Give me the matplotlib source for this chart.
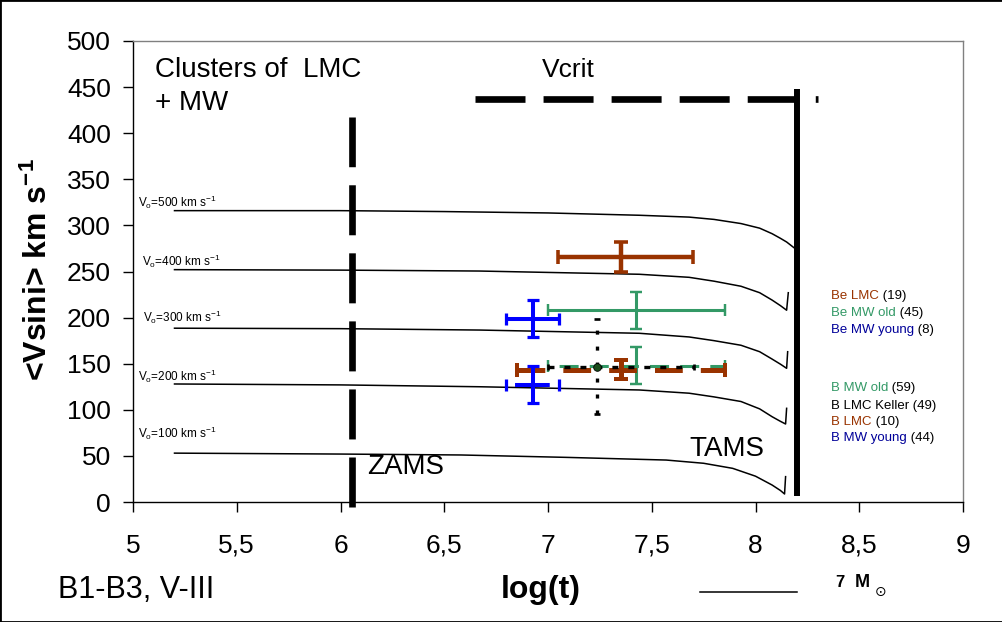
import numpy as np
import matplotlib
matplotlib.use("Agg")
import matplotlib.pyplot as plt
from matplotlib.patches import Rectangle

plt.rcParams['font.family'] = ['Liberation Sans', 'DejaVu Sans']
plt.rcParams['mathtext.fontset'] = 'custom'
plt.rcParams['mathtext.rm'] = 'Liberation Sans'
plt.rcParams['mathtext.it'] = 'Liberation Sans:italic'
plt.rcParams['mathtext.bf'] = 'Liberation Sans:bold'
plt.rcParams['lines.scale_dashes'] = False

BROWN = '#993300'
GREEN = '#339966'
BLUE = '#0000ff'
NAVY = '#000099'

# evolutionary tracks, 7 Msun (log t, <Vsini>)
track_v0 = [500, 400, 300, 200, 100]
track_logt = [
    [5.2, 6.0, 6.5, 7.0, 7.44, 7.68, 7.8, 7.93, 8.02, 8.08, 8.12, 8.15, 8.19],
    [5.2, 6.0, 6.67, 7.0, 7.44, 7.68, 7.8, 7.93, 8.02, 8.08, 8.12, 8.15, 8.158],
    [5.2, 6.0, 6.67, 7.0, 7.44, 7.68, 7.8, 7.93, 8.02, 8.08, 8.12, 8.15, 8.155],
    [5.2, 6.0, 6.67, 7.0, 7.44, 7.68, 7.8, 7.93, 8.02, 8.08, 8.12, 8.145, 8.15],
    [5.2, 6.0, 6.58, 7.09, 7.57, 7.75, 7.89, 8.0, 8.08, 8.12, 8.14, 8.145],
]
track_vsini = [
    [316, 316, 315, 313.5, 311, 309, 306.5, 302, 297, 291, 286, 282, 275],
    [252, 251.5, 250.5, 249, 247, 243.7, 239.5, 234, 227, 219, 213, 208, 227],
    [188.5, 188, 186.5, 185, 183, 179, 175, 170, 163, 155, 149.5, 145, 163],
    [128, 127, 125, 123.5, 121.5, 118, 114, 109, 101, 92.5, 87.5, 84.6, 101.6],
    [53, 52, 51, 48.4, 45.5, 42, 36.5, 28, 18.4, 12.5, 8.7, 27.5],
]
label_x = [5.025, 5.045, 5.05, 5.025, 5.025]
label_y = [325, 261, 200, 136, 74]

# cluster means: name, count, log t, lo/hi err, vsini, err
groups = ['Be LMC', 'Be MW old', 'Be MW young', 'B MW old', 'B LMC', 'B MW young', 'B LMC Keller']
counts = [19, 45, 8, 59, 10, 44, 49]
g_logt = [7.352, 7.426, 6.926, 7.426, 7.352, 6.926, 7.2345]
g_xlo = [0.305, 0.426, 0.127, 0.426, 0.501, 0.127, 0.2345]
g_xhi = [0.347, 0.425, 0.125, 0.425, 0.499, 0.125, 0.47]
g_v = [266, 208, 199, 148, 143.5, 127, 146.5]
g_verr = [16, 20, 20, 20, 10.5, 20, 51.5]

# special lines
zams_logt = 6.054
zams_v = [-5, 417.5]
tams_logt = 8.198
tams_v = [6.5, 447.6]
vcrit_v = 437
vcrit_logt = [6.648, 8.30]

xticks = [5, 5.5, 6, 6.5, 7, 7.5, 8, 8.5, 9]
xtick_labels = ['5', '5,5', '6', '6,5', '7', '7,5', '8', '8,5', '9']
yticks = list(range(0, 501, 50))

fig = plt.figure(figsize=(10.03, 6.22), dpi=100)
ax = fig.add_axes([133/1003, 1-502/622, 830/1003, 461/622])
ax.set_xlim(5, 9)
ax.set_ylim(0, 500)

for lx, ly in zip(track_logt, track_vsini):
    ax.plot(lx, ly, color='black', lw=1.1, zorder=2)
for v0, tx, ty in zip(track_v0, label_x, label_y):
    ax.text(tx, ty, r'V$_{\rm o}$=%d km s$^{-1}$' % v0, fontsize=8.5, va='center', ha='left')

dash = (0, (36, 13))
ax.plot([zams_logt, zams_logt], zams_v, color='black', lw=4.8, ls=dash,
        solid_capstyle='butt', dash_capstyle='butt', clip_on=False, zorder=3)
ax.plot([tams_logt, tams_logt], tams_v, color='black', lw=4.3,
        solid_capstyle='butt', zorder=3)
ax.plot(vcrit_logt, [vcrit_v, vcrit_v], color='black', lw=4.8, ls=dash,
        dash_capstyle='butt', zorder=3)


def cross(i, color, lw, xls='-', yls='-', cap=4.5, marker=None):
    eb = ax.errorbar(g_logt[i], g_v[i], xerr=[[g_xlo[i]], [g_xhi[i]]], yerr=g_verr[i],
                     fmt='none', ecolor=color, elinewidth=lw, capsize=cap,
                     capthick=lw * 0.8, zorder=4)
    xbar, ybar = eb[2]
    xbar.set_linestyle(xls)
    ybar.set_linestyle(yls)
    xbar.set_capstyle('butt')
    ybar.set_capstyle('butt')
    if marker:
        ax.plot(g_logt[i], g_v[i], 'o', ms=5.5, mfc=marker, mec='black', mew=0.6, zorder=5)


cross(0, BROWN, 3.2, cap=5)
cross(1, GREEN, 2.2)
cross(2, BLUE, 2.9)
cross(3, GREEN, 2.2, xls=(13.7, (13.7, 8)))
cross(4, BROWN, 3.6, xls=(0, (20, 13)), cap=5)
cross(5, BLUE, 2.9, xls=(25, (25, 6.5)))
cross(6, 'black', 2.4, xls=(0, (4.3, 7.2)), yls=(0, (2.9, 8.6)), cap=2.5, marker='#1a4d1a')

# group labels on the right
leg_x = 8.364
leg_y = [223.4, 205, 186.6, 123.3, 104.1, 87.1, 69.1]
leg_order = [0, 1, 2, 3, 6, 4, 5]
leg_col = {0: BROWN, 1: GREEN, 2: NAVY, 3: GREEN, 4: BROWN, 5: NAVY, 6: 'black'}
for yy, i in zip(leg_y, leg_order):
    t = ax.text(leg_x, yy, groups[i], color=leg_col[i], fontsize=9.5, va='center', ha='left')
    ax.annotate(' (%d)' % counts[i], xy=(1, 0), xycoords=t, va='bottom', ha='left',
                fontsize=9.5, color='black')

ax.text(5.106, 468.5, 'Clusters of  LMC', fontsize=20, va='center', ha='left')
ax.text(5.106, 432.7, '+ MW', fontsize=20, va='center', ha='left')
ax.text(6.969, 468.5, 'Vcrit', fontsize=19, va='center', ha='left')
ax.text(6.126, 38, 'ZAMS', fontsize=20, va='center', ha='left')
ax.text(7.681, 58, 'TAMS', fontsize=20, va='center', ha='left')

ax.set_xticks(xticks)
ax.set_xticklabels(xtick_labels)
ax.set_yticks(yticks)
ax.tick_params(axis='both', direction='out', labelsize=19, length=7, width=1, colors='black')
ax.tick_params(axis='x', pad=16)
ax.tick_params(axis='y', pad=9)
ax.spines['top'].set_color('#808080')
ax.spines['right'].set_color('#808080')
for s in ax.spines.values():
    s.set_linewidth(1)

fig.text(38/1003, 1-270/622, r'<Vsini> km s$^{\mathbf{-1}}$', rotation=90, fontsize=23,
         fontweight='bold', ha='center', va='center')
fig.text(541/1003, 1-590/622, 'log(t)', fontsize=23, fontweight='bold', ha='center', va='center')
fig.text(58/1003, 1-590/622, 'B1-B3, V-III', fontsize=22, ha='left', va='center')

# mass legend: line + "7 M(sun)"
fig.add_artist(plt.Line2D([700/1003, 797/1003], [1-592/622, 1-592/622], color='black', lw=1.1))
fig.text(835/1003, 1-587/622, '7', fontsize=12, fontweight='bold', ha='left', va='baseline')
fig.text(855/1003, 1-587/622, 'M', fontsize=13, fontweight='bold', ha='left', va='baseline')
fig.text(875/1003, 1-596/622, '\u2299', fontsize=10, family=['DejaVu Sans'], ha='left', va='baseline')

fig.add_artist(Rectangle((0, 0), 1, 1, transform=fig.transFigure, fill=False,
                         edgecolor='black', lw=2))

fig.savefig('out.png', dpi=100)
